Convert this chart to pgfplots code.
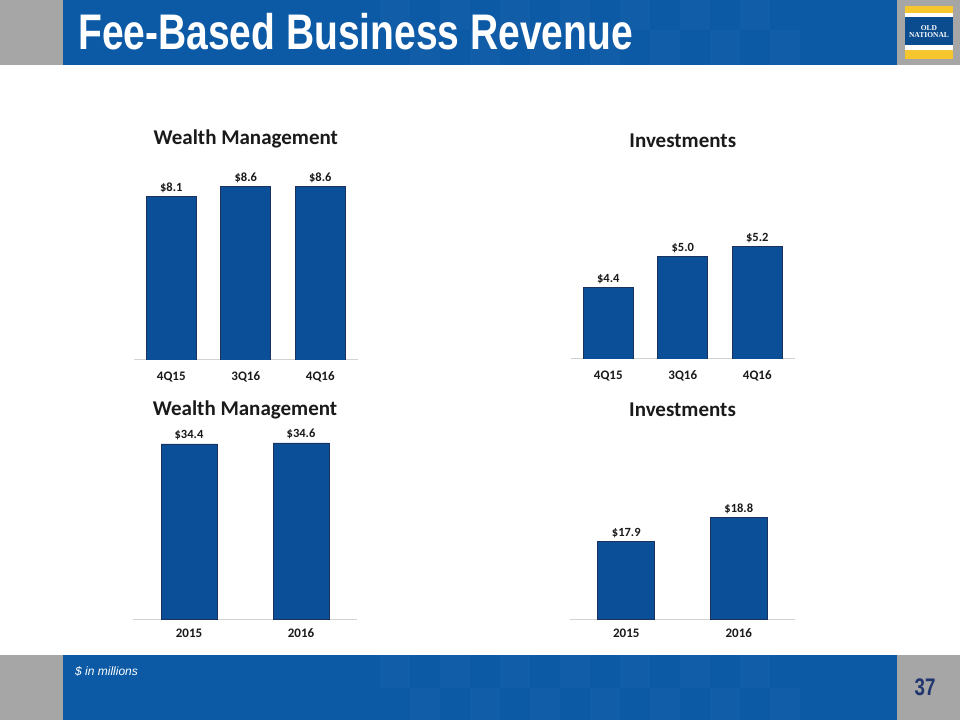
\documentclass[border=0pt]{standalone}
\usepackage{pgfplots}
\pgfplotsset{compat=1.18}
\usepackage{fontspec}
\setmainfont{Carlito}
\newfontfamily\headfont[FakeStretch=0.78]{Liberation Sans}
\newfontfamily\arialfont{Liberation Sans}
\newfontfamily\logofont{Liberation Serif}

\definecolor{slidegray}{HTML}{A6A6A6}
\definecolor{slideblue}{HTML}{0C5AA6}
\definecolor{barblue}{HTML}{0A4F98}
\definecolor{baredge}{HTML}{1B325F}
\definecolor{logoyellow}{HTML}{F6C62F}
\definecolor{navy}{HTML}{1F356E}
\definecolor{labeltext}{HTML}{1A1A1A}

\pgfplotsset{
  slidebar/.style={
    scale only axis,
    ybar, bar width=50pt,
    axis y line=none,
    axis x line*=bottom,
    x axis line style={color=gray!35, line width=1pt, -},
    xtick=data, major tick length=0pt,
    ymajorticks=false,
    enlargelimits=false,
    xticklabel style={font=\fontsize{13}{15}\selectfont\bfseries, text=labeltext},
    title style={font=\fontsize{21}{24}\selectfont\bfseries, text=labeltext, anchor=center, at={(0.5,1)}},
    nodes near coords={\$\pgfmathprintnumber[fixed,fixed zerofill,precision=1,assume math mode=true]{\pgfplotspointmeta}},
    every node near coord/.append style={font=\fontsize{12.5}{14}\selectfont\bfseries, text=labeltext},
  },
  slidebars/.style={fill=barblue, draw=baredge, line width=0.6pt},
}

\begin{document}
\begin{tikzpicture}
\useasboundingbox (0,0) rectangle (960pt,720pt);
\fill[white] (0,0) rectangle (960pt,720pt);

% header
\fill[slidegray] (0,655pt) rectangle (960pt,720pt);
\fill[slideblue] (63pt,655pt) rectangle (897pt,720pt);
\foreach \cx in {380,440,500,560,620,680,740} {
  \fill[white, opacity=0.025] (\cx pt,690pt) rectangle ++(30pt,30pt);
  \fill[white, opacity=0.025] (\cx pt+30pt,655pt) rectangle ++(30pt,35pt);
}
\node[anchor=base west, text=white, inner sep=0pt,
  font=\headfont\bfseries\fontsize{50}{52}\selectfont] at (78pt,670pt) {Fee-Based Business Revenue};

% logo
\fill[logoyellow] (905pt,661pt) rectangle (953pt,670pt);
\fill[white] (905pt,670pt) rectangle (953pt,675pt);
\fill[slideblue!85!black] (905pt,675pt) rectangle (953pt,702.5pt);
\fill[white] (905pt,702.5pt) rectangle (953pt,707pt);
\fill[logoyellow] (905pt,707pt) rectangle (953pt,714pt);
\node[text=white, font=\logofont\bfseries\fontsize{7.5}{7.5}\selectfont, align=center, inner sep=0pt]
  at (929pt,688.5pt) {OLD\\[0pt]NATIONAL};

% footer
\fill[slidegray] (0,0) rectangle (960pt,65pt);
\fill[slideblue] (63pt,0) rectangle (897pt,65pt);
\foreach \cx in {380,440,500,560,620,680,740} {
  \fill[white, opacity=0.025] (\cx pt,32pt) rectangle ++(30pt,33pt);
  \fill[white, opacity=0.025] (\cx pt+30pt,0pt) rectangle ++(30pt,32pt);
}
\node[anchor=base west, text=white, inner sep=0pt,
  font=\arialfont\itshape\fontsize{12}{14}\selectfont] at (75pt,45pt) {\$ in millions};
\node[text=navy, inner sep=0pt, font=\headfont\bfseries\fontsize{24}{26}\selectfont]
  at (925pt,33pt) {37};

% top left: Wealth Management, quarters
\begin{axis}[slidebar, at={(134pt,360pt)}, anchor=south west,
  width=223.5pt, height=202pt,
  xmin=-0.5, xmax=2.5, ymin=0, ymax=10,
  xticklabels={4Q15,3Q16,4Q16}, xticklabel style={yshift=-8pt},
  title={Wealth Management}, title style={yshift=13pt}]
\addplot[slidebars] coordinates {(0,8.1) (1,8.6) (2,8.6)};
\end{axis}

% top right: Investments, quarters
\begin{axis}[slidebar, at={(571pt,361pt)}, anchor=south west,
  width=223.5pt, height=205pt,
  xmin=-0.5, xmax=2.5, ymin=3, ymax=7,
  xticklabels={4Q15,3Q16,4Q16}, xticklabel style={yshift=-8pt},
  title={Investments}, title style={yshift=7pt}]
\addplot[slidebars] coordinates {(0,4.4) (1,5.0) (2,5.2)};
\end{axis}

% bottom left: Wealth Management, years
\begin{axis}[slidebar, at={(133pt,101pt)}, anchor=south west,
  width=224pt, height=203.6pt, bar width=56pt,
  xmin=-0.5, xmax=1.5, ymin=0, ymax=40,
  xticklabels={2015,2016}, xticklabel style={yshift=-6pt},
  title={Wealth Management}, title style={yshift=-0.6pt}]
\addplot[slidebars] coordinates {(0,34.4) (1,34.6)};
\end{axis}

% bottom right: Investments, years
\begin{axis}[slidebar, at={(570pt,101pt)}, anchor=south west,
  width=225pt, height=200pt, bar width=57pt,
  xmin=-0.5, xmax=1.5, ymin=15, ymax=22.5,
  xticklabels={2015,2016}, xticklabel style={yshift=-6pt},
  title={Investments}, title style={yshift=3pt}]
\addplot[slidebars] coordinates {(0,17.9) (1,18.8)};
\end{axis}
\end{tikzpicture}
\end{document}
